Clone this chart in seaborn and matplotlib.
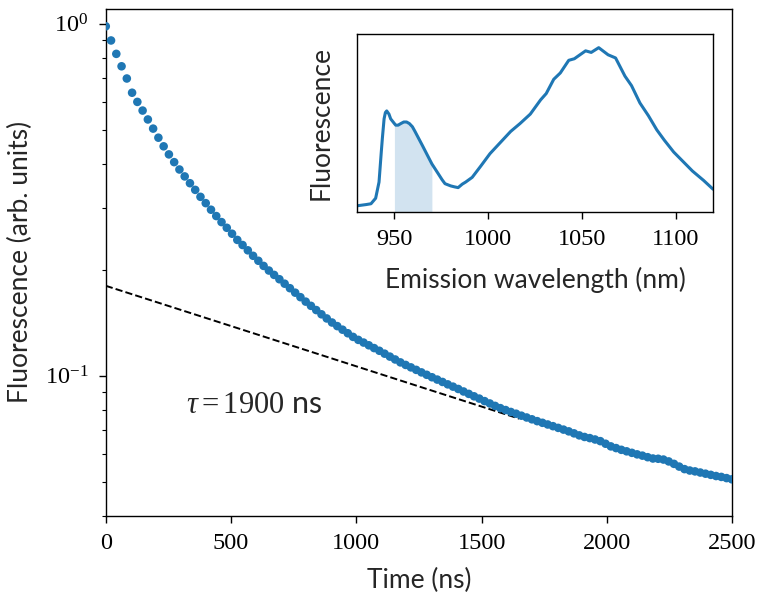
import numpy as np
import pandas as pd
import matplotlib
matplotlib.use("Agg")
import matplotlib.pyplot as plt
import seaborn as sns

# ---- fluorescence decay (sampled every 21 ns) ----
time_step_ns = 21
fluorescence = [
    0.982, 0.895, 0.820, 0.756, 0.698, 0.636, 0.599, 0.566, 0.534, 0.503,
    0.474, 0.448, 0.425, 0.404, 0.385, 0.368, 0.352, 0.337, 0.322, 0.309,
    0.296, 0.284, 0.273, 0.263, 0.253, 0.243, 0.235, 0.227, 0.219, 0.212,
    0.205, 0.1989, 0.1933, 0.1879, 0.1825, 0.1772, 0.1721, 0.1671, 0.1623, 0.1579,
    0.1536, 0.1494, 0.1454, 0.1416, 0.1383, 0.1351, 0.1320, 0.1289, 0.1264, 0.1242,
    0.1220, 0.1198, 0.1177, 0.1155, 0.1133, 0.1112, 0.1091, 0.1073, 0.1056, 0.1039,
    0.1022, 0.1006, 0.0990, 0.0975, 0.0960, 0.0945, 0.0931, 0.0917, 0.0902, 0.0888,
    0.0874, 0.0861, 0.0847, 0.0834, 0.0821, 0.0809, 0.0799, 0.0789, 0.0780, 0.0770,
    0.0761, 0.0752, 0.0743, 0.0735, 0.0727, 0.0719, 0.0711, 0.0703, 0.0695, 0.0686,
    0.0677, 0.0670, 0.0665, 0.0659, 0.0652, 0.0641, 0.0630, 0.0623, 0.0616, 0.0610,
    0.0604, 0.0598, 0.0593, 0.0587, 0.0582, 0.0581, 0.0578, 0.0571, 0.0562, 0.0552,
    0.0543, 0.0538, 0.0535, 0.0531, 0.0527, 0.0523, 0.0519, 0.0516, 0.0512, 0.0508,
]
time_ns = np.arange(len(fluorescence)) * time_step_ns

# single-exponential tail fit
fit_amplitude = 0.18
fit_tau_ns = 1900
fit_t_end_ns = 1650

# ---- emission spectrum (inset) ----
wavelength_nm = [
    930, 935, 937.5, 940, 941.8, 943, 943.6, 944.5, 945.2, 945.9,
    947.1, 948, 950, 950.7, 952, 953.4, 955, 956.5, 958, 959.6,
    961, 965, 967.6, 970, 973, 975.5, 977, 980, 982, 984,
    986.2, 988, 991.5, 996, 1001, 1006.5, 1012, 1017, 1022.5, 1028,
    1031, 1035, 1038.5, 1043, 1046, 1052, 1055, 1059, 1064, 1068,
    1073, 1076.5, 1081, 1085.5, 1090, 1094, 1099, 1104, 1109, 1115,
    1120,
]
emission = [
    0.000, 0.008, 0.013, 0.048, 0.150, 0.340, 0.430, 0.550, 0.590, 0.600,
    0.580, 0.550, 0.520, 0.510, 0.510, 0.520, 0.530, 0.530, 0.520, 0.500,
    0.470, 0.380, 0.320, 0.265, 0.210, 0.164, 0.140, 0.126, 0.120, 0.115,
    0.137, 0.150, 0.180, 0.250, 0.330, 0.400, 0.470, 0.520, 0.580, 0.670,
    0.710, 0.800, 0.840, 0.920, 0.930, 0.980, 0.970, 1.000, 0.955, 0.935,
    0.820, 0.760, 0.650, 0.570, 0.480, 0.415, 0.340, 0.280, 0.220, 0.160,
    0.105,
]
band_lo_nm, band_hi_nm = 950, 970

xticks_main = [0, 500, 1000, 1500, 2000, 2500]
xticks_inset = [950, 1000, 1050, 1100]

# ---- styling ----
sns.set_theme(style="ticks")
SERIF = ["Liberation Serif", "DejaVu Serif"]
SANS = ["Lato", "DejaVu Sans"]
plt.rcParams["font.family"] = SERIF
plt.rcParams["mathtext.fontset"] = "custom"
plt.rcParams["mathtext.rm"] = "Liberation Serif"
plt.rcParams["mathtext.it"] = "Liberation Serif:italic"
plt.rcParams["axes.edgecolor"] = "black"
plt.rcParams["axes.linewidth"] = 1.0
plt.rcParams["xtick.color"] = "black"
plt.rcParams["ytick.color"] = "black"
plt.rcParams["xtick.major.size"] = 5
plt.rcParams["ytick.major.size"] = 5
plt.rcParams["ytick.minor.size"] = 3
plt.rcParams["xtick.major.width"] = 1.0
plt.rcParams["ytick.major.width"] = 1.0
plt.rcParams["ytick.minor.width"] = 0.8
plt.rcParams["xtick.major.pad"] = 7.5
plt.rcParams["ytick.major.pad"] = 7.5

blue = "#1f77b4"
FS_LABEL = 19
FS_TICK = 17.5

fig = plt.figure(figsize=(7.61, 5.95), dpi=100)
ax = fig.add_axes([0.139, 0.133, 0.823, 0.852])

decay = pd.DataFrame({"time": time_ns, "fluorescence": fluorescence})
sns.scatterplot(data=decay, x="time", y="fluorescence", ax=ax, s=38,
                color=blue, edgecolor="none", linewidth=0, zorder=3)

fit_t = np.linspace(0, fit_t_end_ns, 200)
fit = pd.DataFrame({"time": fit_t,
                    "model": fit_amplitude * np.exp(-fit_t / fit_tau_ns)})
sns.lineplot(data=fit, x="time", y="model", ax=ax, color="black",
             linestyle="--", linewidth=1.4, zorder=2)

ax.set_yscale("log")
ax.set_xlim(0, 2500)
ax.set_ylim(0.04, 1.1)
ax.set_xticks(xticks_main)
ax.set_xlabel("Time (ns)", fontsize=FS_LABEL, family=SANS, labelpad=10)
ax.set_ylabel("Fluorescence (arb. units)", fontsize=FS_LABEL, family=SANS,
              labelpad=8.5)
ax.tick_params(axis="both", which="both", labelsize=FS_TICK)

ax.text(320, 0.0785, r"$\tau = 1900$ ns", fontsize=22, family=SANS,
        ha="left", va="baseline")

# ---- inset ----
axin = fig.add_axes([0.469, 0.644, 0.468, 0.299])
spec = pd.DataFrame({"wavelength": wavelength_nm, "emission": emission})
sns.lineplot(data=spec, x="wavelength", y="emission", ax=axin,
             color=blue, linewidth=2.2)
ymin_in, ymax_in = -0.038, 1.087
band = spec[(spec.wavelength >= band_lo_nm) & (spec.wavelength <= band_hi_nm)]
axin.fill_between(band.wavelength, ymin_in, band.emission,
                  color=blue, alpha=0.2, linewidth=0)
axin.set_xlim(930, 1120)
axin.set_ylim(ymin_in, ymax_in)
axin.set_xticks(xticks_inset)
axin.set_yticks([])
axin.set_xlabel("Emission wavelength (nm)", fontsize=FS_LABEL, family=SANS,
                labelpad=12)
axin.set_ylabel("Fluorescence", fontsize=FS_LABEL, family=SANS, labelpad=17)
axin.tick_params(axis="x", labelsize=FS_TICK)

fig.savefig("out.png", dpi=100)
